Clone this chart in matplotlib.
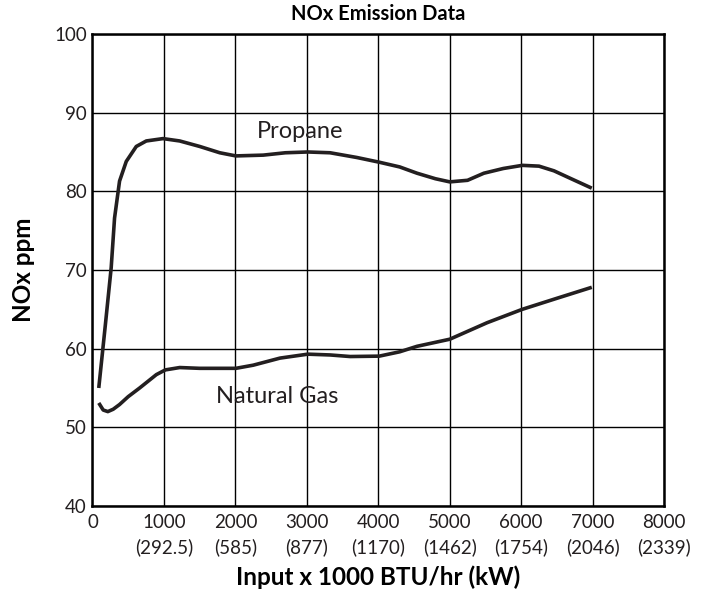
import matplotlib
matplotlib.use("Agg")
import matplotlib.pyplot as plt

plt.rcParams['font.family'] = ['Lato', 'DejaVu Sans']

# Data
propane_x = [88, 180, 262, 309, 379, 473, 613, 753, 987, 1221, 1502, 1782, 2007,
             2390, 2700, 3013, 3326, 3700, 4014, 4300, 4543, 4800, 5001, 5250,
             5478, 5750, 6016, 6250, 6461, 6700, 6989]
propane_y = [55.0, 63.0, 70.3, 76.6, 81.3, 83.8, 85.7, 86.4, 86.7, 86.4, 85.7,
             84.9, 84.5, 84.6, 84.9, 85.0, 84.9, 84.3, 83.7, 83.1, 82.3, 81.6,
             81.2, 81.4, 82.3, 82.9, 83.3, 83.2, 82.6, 81.6, 80.4]

gas_x = [88, 150, 215, 290, 379, 500, 660, 894, 1020, 1221, 1500, 2007, 2250,
         2625, 3013, 3326, 3607, 4014, 4300, 4543, 5001, 5524, 6016, 6500, 6989]
gas_y = [53.1, 52.2, 52.0, 52.3, 52.9, 53.9, 55.0, 56.7, 57.3, 57.6, 57.5, 57.5,
         57.9, 58.8, 59.3, 59.2, 59.0, 59.05, 59.6, 60.3, 61.2, 63.3, 65.0,
         66.4, 67.8]

x_ticks = [0, 1000, 2000, 3000, 4000, 5000, 6000, 7000, 8000]
x_tick_labels = ['0', '1000\n(292.5)', '2000\n(585)', '3000\n(877)',
                 '4000\n(1170)', '5000\n(1462)', '6000\n(1754)',
                 '7000\n(2046)', '8000\n(2339)']
y_ticks = [40, 50, 60, 70, 80, 90, 100]

label_propane = ('Propane', 2905, 87.6)
label_gas = ('Natural Gas', 2583, 53.9)

line_color = '#231f20'

fig = plt.figure(figsize=(7.07, 5.96), dpi=100)
ax = fig.add_axes([0.1308, 0.151, 0.8084, 0.792])

ax.plot(propane_x, propane_y, color=line_color, lw=2.6,
        solid_joinstyle='round', solid_capstyle='butt')
ax.plot(gas_x, gas_y, color=line_color, lw=2.6,
        solid_joinstyle='round', solid_capstyle='butt')

ax.set_xlim(0, 8000)
ax.set_ylim(40, 100)
ax.set_xticks(x_ticks)
ax.set_xticklabels(x_tick_labels, fontsize=13.5, linespacing=1.45)
ax.set_yticks(y_ticks)
ax.set_yticklabels([str(v) for v in y_ticks], fontsize=13.5)
ax.tick_params(axis='both', length=0, colors='#231f20')
ax.tick_params(axis='y', pad=4)
ax.tick_params(axis='x', pad=6)

ax.grid(True, color='black', lw=1.0)
ax.set_axisbelow(True)
for s in ax.spines.values():
    s.set_linewidth(1.8)
    s.set_color('black')

ax.text(label_propane[1], label_propane[2], label_propane[0], fontsize=17,
        ha='center', va='center', color='#231f20')
ax.text(label_gas[1], label_gas[2], label_gas[0], fontsize=17,
        ha='center', va='center', color='#231f20')

ax.set_title('NOx Emission Data', fontsize=14.5, fontweight='bold', pad=10)
ax.set_xlabel('Input x 1000 BTU/hr (kW)', fontsize=17.5, fontweight='bold',
              labelpad=7)
ax.set_ylabel('NOx ppm', fontsize=17.5, fontweight='bold', labelpad=14)

fig.savefig('out.png', dpi=100, facecolor='white')
